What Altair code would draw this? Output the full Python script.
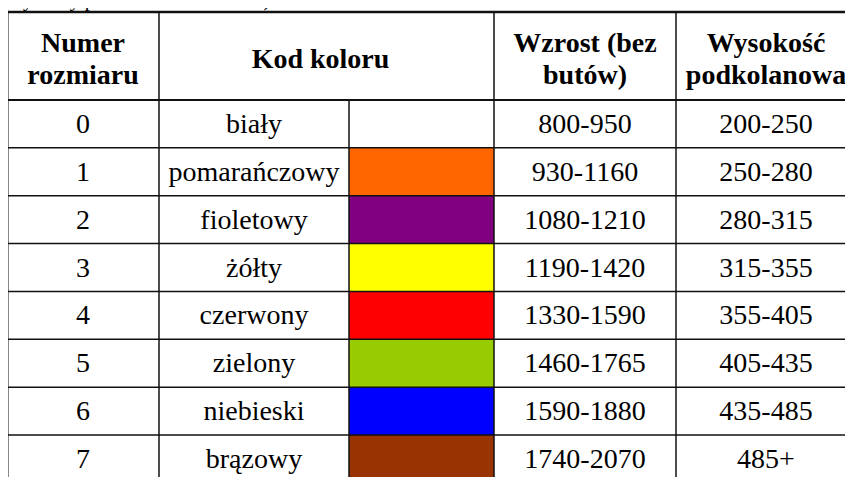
import altair as alt
import pandas as pd

# ---- data ----
size_numbers = ["0", "1", "2", "3", "4", "5", "6", "7"]
color_names = ["biały", "pomarańczowy", "fioletowy", "żółty", "czerwony",
               "zielony", "niebieski", "brązowy"]
color_codes = ["#FFFFFF", "#FF6600", "#800080", "#FFFF00", "#FF0000",
               "#99CC00", "#0000FF", "#993300"]
body_heights = ["800-950", "930-1160", "1080-1210", "1190-1420", "1330-1590",
                "1460-1765", "1590-1880", "1740-2070"]
knee_heights = ["200-250", "250-280", "280-315", "315-355", "355-405",
                "405-435", "435-485", "485+"]
header_numer = ["Numer", "rozmiaru"]
header_kod = ["Kod koloru"]
header_wzrost = ["Wzrost (bez", "butów)"]
header_wys = ["Wysokość", "podkolanowa"]
caption = "(wymiary podane w milimetrach)"

# ---- layout (page pixel units) ----
col_edges = [7, 159, 349, 494, 676, 856]
header_top = 12
header_bottom = 100
row_h = 47.86
n_rows = len(size_numbers)
row_edges = [header_bottom + i * row_h for i in range(n_rows + 1)]
header_baselines = [52, 84]
kod_baseline = 68
FONT = "Liberation Serif"
BODY_SIZE = 28
HEAD_SIZE = 28
LINE = "#111111"
W, H = 837, 469

def cc(i):
    return (col_edges[i] + col_edges[i + 1]) / 2

xs = alt.Scale(domain=[8, 8 + W], range=[0, W], nice=False, zero=False)
ys = alt.Scale(domain=[8, 8 + H], range=[0, H], nice=False, zero=False)

# swatches
sw = pd.DataFrame({
    "x": [col_edges[2]] * n_rows, "x2": [col_edges[3]] * n_rows,
    "y": row_edges[:-1], "y2": row_edges[1:], "c": color_codes,
})
swatches = alt.Chart(sw).mark_rect().encode(
    x=alt.X("x:Q", scale=xs, axis=None), x2="x2:Q",
    y=alt.Y("y:Q", scale=ys, axis=None), y2="y2:Q",
    color=alt.Color("c:N", scale=None),
)

# body text
rows = []
for i in range(n_rows):
    yc = (row_edges[i] + row_edges[i + 1]) / 2 + 1
    rows.append({"x": cc(0), "y": yc, "t": size_numbers[i]})
    rows.append({"x": cc(1), "y": yc, "t": color_names[i]})
    rows.append({"x": cc(3), "y": yc, "t": body_heights[i]})
    rows.append({"x": cc(4), "y": yc, "t": knee_heights[i]})
body = alt.Chart(pd.DataFrame(rows)).mark_text(
    font=FONT, fontSize=BODY_SIZE, baseline="middle", align="center", color="#000"
).encode(
    x=alt.X("x:Q", scale=xs, axis=None), y=alt.Y("y:Q", scale=ys, axis=None), text="t:N"
)

# header text
hrows = []
for j, t in enumerate(header_numer):
    hrows.append({"x": cc(0), "y": header_baselines[j], "t": t})
hrows.append({"x": (col_edges[1] + col_edges[3]) / 2 - 6, "y": kod_baseline, "t": header_kod[0]})
for j, t in enumerate(header_wzrost):
    hrows.append({"x": cc(3), "y": header_baselines[j], "t": t})
for j, t in enumerate(header_wys):
    hrows.append({"x": cc(4), "y": header_baselines[j], "t": t})
head = alt.Chart(pd.DataFrame(hrows)).mark_text(
    font=FONT, fontSize=HEAD_SIZE, fontWeight="bold", baseline="alphabetic",
    align="center", color="#000"
).encode(
    x=alt.X("x:Q", scale=xs, axis=None), y=alt.Y("y:Q", scale=ys, axis=None), text="t:N"
)

cap = alt.Chart(pd.DataFrame({"x": [2], "y": [6], "t": [caption]})).mark_text(
    font=FONT, fontSize=20, baseline="alphabetic", align="left", color="#000"
).encode(
    x=alt.X("x:Q", scale=xs, axis=None), y=alt.Y("y:Q", scale=ys, axis=None), text="t:N"
)

# horizontal lines
hl = [{"y": header_top, "x": col_edges[0], "x2": col_edges[-1], "w": 2.5}]
for k, ry in enumerate(row_edges):
    hl.append({"y": ry, "x": col_edges[0], "x2": col_edges[-1], "w": 2 if k == 0 else 1.5})
hlines = alt.Chart(pd.DataFrame(hl)).mark_rule(color=LINE).encode(
    y=alt.Y("y:Q", scale=ys, axis=None),
    x=alt.X("x:Q", scale=xs, axis=None), x2="x2:Q",
    strokeWidth=alt.StrokeWidth("w:Q", scale=None),
)

# vertical lines
vl = [
    {"x": col_edges[0], "y": header_top, "y2": row_edges[-1], "w": 3},
    {"x": col_edges[1], "y": header_top, "y2": row_edges[-1], "w": 1.5},
    {"x": col_edges[2], "y": header_bottom, "y2": row_edges[-1], "w": 1.5},
    {"x": col_edges[3], "y": header_top, "y2": row_edges[-1], "w": 1.5},
    {"x": col_edges[4], "y": header_top, "y2": row_edges[-1], "w": 1.5},
    {"x": col_edges[5], "y": header_top, "y2": row_edges[-1], "w": 2.5},
]
vlines = alt.Chart(pd.DataFrame(vl)).mark_rule(color=LINE).encode(
    x=alt.X("x:Q", scale=xs, axis=None),
    y=alt.Y("y:Q", scale=ys, axis=None), y2="y2:Q",
    strokeWidth=alt.StrokeWidth("w:Q", scale=None),
)

chart = alt.layer(swatches, hlines, vlines, body, head, cap).properties(
    width=W, height=H,
    autosize=alt.AutoSizeParams(type="none"),
    padding=0,
    background="white",
).configure_view(stroke=None)

chart.save("out.html", embed_options={"renderer": "svg", "actions": False})
